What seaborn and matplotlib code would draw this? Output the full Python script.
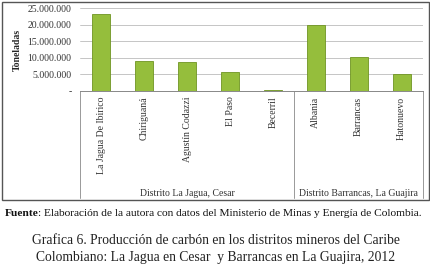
import matplotlib
matplotlib.use("Agg")
import matplotlib.pyplot as plt
import seaborn as sns
import pandas as pd
from matplotlib.patches import Rectangle
from matplotlib.ticker import FuncFormatter

municipios = ["La Jagua De Ibirico", "Chiriguaná", "Agustín Codazzi", "El Paso",
              "Becerril", "Albania", "Barrancas", "Hatonuevo"]
toneladas = [23200000, 9100000, 8600000, 5600000, 300000, 19900000, 10300000, 5200000]
distritos = ["Distrito La Jagua, Cesar", "Distrito Barrancas, La Guajira"]
distrito_sizes = [5, 3]
yticks = [0, 5000000, 10000000, 15000000, 20000000, 25000000]

sns.set_theme(style="white")
plt.rcParams["font.family"] = "serif"
plt.rcParams["font.serif"] = ["Liberation Serif", "DejaVu Serif"]

df = pd.DataFrame({"municipio": municipios, "toneladas": toneladas})

fig = plt.figure(figsize=(4.31, 2.67), dpi=100)
ax = fig.add_axes([80/431, 1-91/267, 343/431, 83/267])

sns.barplot(data=df, x="municipio", y="toneladas", color="#95BE3C",
            saturation=1, width=0.42, edgecolor="#6F9423", linewidth=0.6, ax=ax)

ax.set_ylim(0, 25000000)
ax.set_xlim(-0.5, len(municipios) - 0.5)
ax.set_yticks(yticks)
ax.yaxis.set_major_formatter(FuncFormatter(
    lambda v, p: "-" if v == 0 else f"{int(v):,}".replace(",", ".")))
ax.grid(axis="y", color="#BBBBBB", linewidth=0.6)
ax.set_axisbelow(True)
for s in ["top", "right", "left"]:
    ax.spines[s].set_visible(False)
ax.spines["bottom"].set_color("#888888")
ax.spines["bottom"].set_linewidth(0.7)
ax.tick_params(axis="y", labelsize=7, pad=6, length=0, labelcolor="#333333")
ax.tick_params(axis="x", labelsize=7, rotation=90, length=0, pad=4, labelcolor="#333333")
ax.set_xlabel("")
ax.set_ylabel("Toneladas", fontsize=7, fontweight="bold", labelpad=4)

# group separators and labels
trans = ax.get_xaxis_transform()
bounds = [-0.5]
for n in distrito_sizes:
    bounds.append(bounds[-1] + n)
sep_bottom = -(198 - 91) / 83
for b in bounds:
    ax.plot([b, b], [0, sep_bottom], transform=trans, color="#999999",
            linewidth=0.7, clip_on=False)
for i, name in enumerate(distritos):
    cx = (bounds[i] + bounds[i + 1]) / 2
    ax.text(cx, -(194 - 91) / 83, name, transform=trans, ha="center",
            va="center", fontsize=7, color="#333333")

# outer chart frame
fig.patches.append(Rectangle((2/431, 1-200/267), 427/431, 198/267,
                             transform=fig.transFigure, fill=False,
                             edgecolor="#555555", linewidth=1.0))

fs = 8.2
fig.text(5/431, 1-213/267, "Fuente", fontsize=fs, fontweight="bold",
         va="center", ha="left", color="#111111")
fig.text(38.5/431, 1-213/267,
         ": Elaboración de la autora con datos del Ministerio de Minas y Energía de Colombia.",
         fontsize=fs, va="center", ha="left", color="#111111")
fig.text(0.5, 1-241/267,
         "Grafica 6. Producción de carbón en los distritos mineros del Caribe",
         fontsize=9.8, ha="center", va="center", color="#222222")
fig.text(0.5, 1-258/267,
         "Colombiano: La Jagua en Cesar  y Barrancas en La Guajira, 2012",
         fontsize=9.8, ha="center", va="center", color="#222222")

fig.savefig("out.png", dpi=100)
